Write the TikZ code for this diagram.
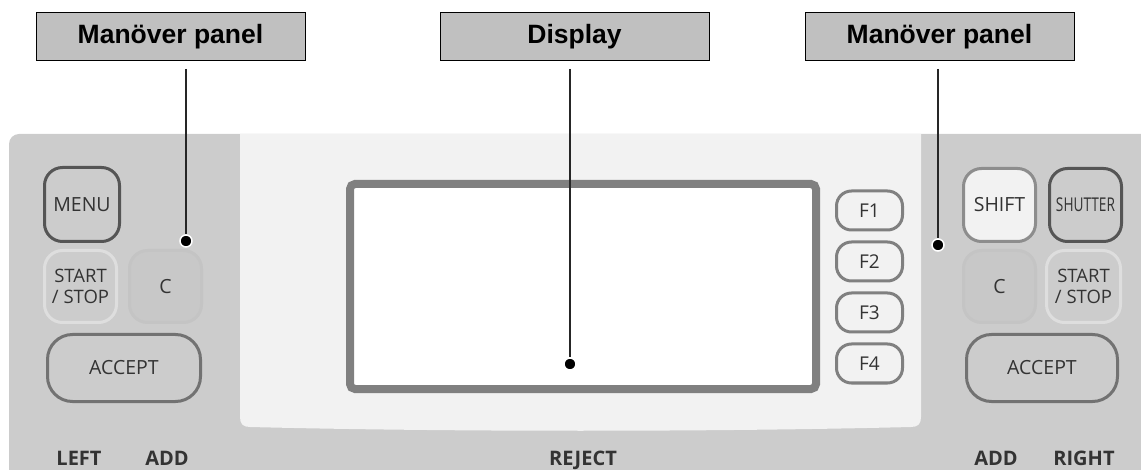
\documentclass[tikz,border=0pt]{standalone}
\usepackage{fontspec}
\usepackage{graphicx}
\setmainfont{Open Sans}
\newfontfamily\labelfont{Liberation Sans}
\usetikzlibrary{positioning}

\definecolor{panelgray}{HTML}{CCCCCC}
\definecolor{lightarea}{HTML}{F2F2F2}
\definecolor{labelgray}{HTML}{C0C0C0}
\definecolor{keytext}{HTML}{333333}
\definecolor{darkrim}{HTML}{555555}
\definecolor{midrim}{HTML}{727272}
\definecolor{softrim}{HTML}{DEDEDE}
\definecolor{faintrim}{HTML}{C4C4C4}
\definecolor{dispgray}{HTML}{808080}

\tikzset{
  panelkey/.style={draw=midrim, line width=3pt, fill=panelgray, rounded corners=18pt,
    text=keytext, inner sep=0pt, outer sep=0pt, align=center,
    minimum width=72pt, minimum height=72pt, font=\fontsize{19.5}{22}\selectfont},
  twoline/.style={font=\fontsize{18.5}{21}\selectfont},
  fkey/.style={panelkey, draw=dispgray, fill=lightarea, rounded corners=15pt,
    minimum width=66pt, minimum height=39pt, font=\fontsize{19}{20}\selectfont},
  labelbox/.style={draw=black, line width=1pt, fill=labelgray,
    minimum width=269pt, minimum height=48pt,
    font=\labelfont\bfseries\fontsize{26.5}{30}\selectfont},
  pindot/.style={circle, fill=black, draw=white, line width=1.5pt,
    inner sep=0pt, minimum size=12pt},
  leader/.style={line width=1.5pt, draw=black!85},
  sidetext/.style={text=keytext, anchor=base, font=\bfseries\fontsize{20}{22}\selectfont}
}

\begin{document}
\begin{tikzpicture}[x=1pt, y=-1pt]
  \useasboundingbox (0,0) rectangle (1141,470);

  % housing
  \fill[panelgray, rounded corners=10pt] (9,134) rectangle (1160,490);
  \fill[lightarea] (240,134) -- (240,417) .. controls (240,424) and (243,427) .. (250,427)
    .. controls (450,432) and (711,432) .. (911,427)
    .. controls (918,427) and (921,424) .. (921,417) -- (921,134) -- cycle;

  % screen and function keys
  \node [draw=dispgray, line width=8pt, fill=white, rounded corners=5pt,
    minimum width=466pt, minimum height=205pt] (display) at (583,286.5) {};

  \node [fkey] (f1) at (869.5,210.5) {F1};
  \node [fkey, below=12pt of f1] (f2) {F2};
  \node [fkey, below=12pt of f2] (f3) {F3};
  \node [fkey, below=12pt of f3] (f4) {F4};

  % left keys
  \node [panelkey, draw=darkrim, minimum width=75pt, minimum height=74pt] (menul) at (82,204.5) {MENU};
  \node [panelkey, twoline, draw=softrim] (startl) at (80.5,286.5) {START\\/ STOP};
  \node [panelkey, draw=faintrim, fill=panelgray!98!black] (cl) at (165.5,286.5) {C};
  \node [panelkey, rounded corners=25pt, minimum width=153pt, minimum height=67pt] (acceptl) at (124,368) {ACCEPT};

  % right keys
  \node [panelkey, draw=dispgray!90!white, fill=lightarea, minimum height=73pt] (shiftr) at (999.5,205) {SHIFT};
  \node [panelkey, draw=darkrim, minimum height=73pt, font=\fontsize{19}{21}\selectfont] (shutterr) at (1085.5,205) {\scalebox{0.72}[1]{SHUTTER}};
  \node [panelkey, draw=faintrim, fill=panelgray!98!black] (cr) at (999.5,286.5) {C};
  \node [panelkey, twoline, draw=softrim, minimum width=74pt] (startr) at (1083.5,286.5) {START\\/ STOP};
  \node [panelkey, rounded corners=25pt, minimum width=151pt, minimum height=67pt] (acceptr) at (1042,368) {ACCEPT};

  % bottom row
  \node [sidetext] (leftl) at (79,465) {LEFT};
  \node [sidetext] (addl) at (167,465) {ADD};
  \node [sidetext] (reject) at (583,465) {REJECT};
  \node [sidetext] (addr) at (996,465) {ADD};
  \node [sidetext] (rightr) at (1084,465) {RIGHT};

  % callouts
  \node [labelbox] (lblleft) at (170.5,36.5) {Manöver panel};
  \node [labelbox] (lbldisplay) at (574.5,36.5) {Display};
  \node [labelbox] (lblright) at (939.5,36.5) {Manöver panel};

  \node [pindot] (dotleft) at (186,241) {};
  \node [pindot] (dotdisplay) at (570,364) {};
  \node [pindot] (dotright) at (938,245) {};

  \draw [leader] (lblleft.south -| dotleft) ++(0,8) -- (dotleft);
  \draw [leader] (lbldisplay.south -| dotdisplay) ++(0,8) -- (dotdisplay);
  \draw [leader] (lblright.south -| dotright) ++(0,8) -- (dotright);

\end{tikzpicture}
\end{document}
